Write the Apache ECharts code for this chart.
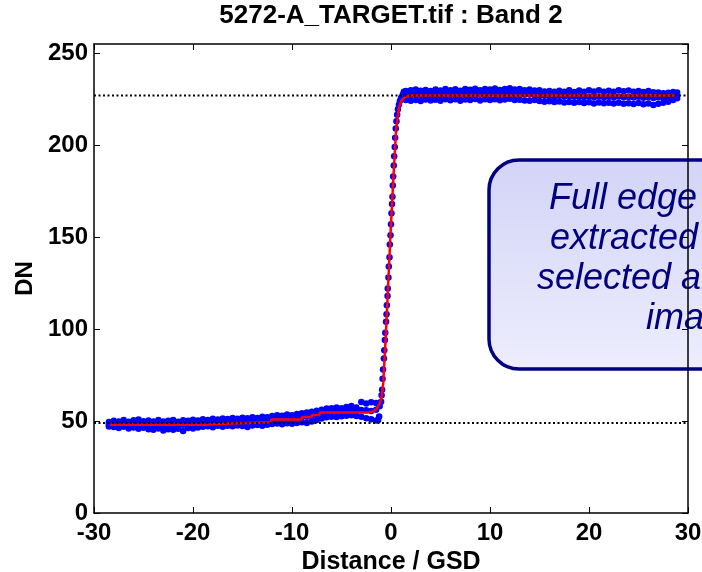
<!DOCTYPE html>
<html>
<head>
<meta charset="utf-8">
<script src="https://cdn.jsdelivr.net/npm/echarts@6/dist/echarts.min.js"></script>
<style>
html,body{margin:0;padding:0;background:#fff;}
#chart{width:702px;height:572px;}
</style>
</head>
<body>
<div id="chart"></div>
<script>
// ---- DATA ----
const chartTitle = '5272-A_TARGET.tif : Band 2';
const xName = 'Distance / GSD';
const yName = 'DN';
const xTicks = [-30, -20, -10, 0, 10, 20, 30];
const yTicks = [0, 50, 100, 150, 200, 250];
const refLevels = [227, 49];
const calloutLines = ['Full edge profile is', 'extracted from the', 'selected area of the', 'image'];

// dark plateau (left) blue dots: x, and upper / middle / lower values of the band
const lowX = [-28.5,-28,-27.5,-27,-26.5,-26,-25.5,-25,-24.5,-24,-23.5,-23,-22.5,-22,-21.5,-21,-20.5,-20,-19.5,-19,-18.5,-18,-17.5,-17,-16.5,-16,-15.5,-15,-14.5,-14,-13.5,-13,-12.5,-12,-11.5,-11,-10.5,-10,-9.5,-9,-8.5,-8,-7.5,-7,-6.5,-6,-5.5,-5,-4.5,-4,-3.5,-3,-2.5,-2,-1.5];
const lowTop = [49.5,50.2,49.8,50.5,49.6,50.4,50.8,49.9,50.3,49.7,50.6,49.8,50.2,50.5,49.6,50.4,50.1,50.7,50.3,51.0,50.6,51.2,50.8,51.4,51.1,51.6,51.3,51.8,51.5,52.0,51.7,52.3,52.1,52.8,53.2,52.9,53.5,53.1,53.8,54.2,54.6,55.0,55.6,56.2,56.8,57.0,57.4,56.9,57.6,58.2,57.3,60.4,59.5,60.2,59.8];
const lowMid = [48.2,48.5,48.0,48.6,47.9,48.3,48.7,47.8,48.4,47.6,48.2,47.5,47.9,48.3,47.7,48.0,48.4,48.5,48.6,49.0,48.8,49.1,49.3,49.2,49.5,49.6,49.4,49.9,49.7,50.0,49.8,50.2,50.4,50.6,50.9,51.0,51.3,51.1,51.6,52.0,52.4,52.8,53.5,54.3,54.8,55.0,55.2,55.1,55.4,55.6,55.3,56.0,55.8,55.5,56.2];
const lowBot = [47.0,46.8,46.2,46.9,46.0,46.5,45.8,46.3,45.5,45.2,45.9,44.8,45.6,45.3,45.8,44.6,46.2,45.9,46.5,46.9,47.2,46.6,47.4,46.9,47.5,47.2,47.6,47.3,46.8,47.6,47.9,47.5,48.0,48.4,48.7,48.3,48.8,48.5,49.0,49.4,48.9,49.8,50.6,51.4,52.0,52.4,52.2,52.6,52.9,53.1,52.7,52.3,51.5,51.0,50.3];

// bright plateau (right) blue dots
const highX = [1.5,2,2.5,3,3.5,4,4.5,5,5.5,6,6.5,7,7.5,8,8.5,9,9.5,10,10.5,11,11.5,12,12.5,13,13.5,14,14.5,15,15.5,16,16.5,17,17.5,18,18.5,19,19.5,20,20.5,21,21.5,22,22.5,23,23.5,24,24.5,25,25.5,26,26.5,27,27.5,28,28.5,28.9];
const highTop = [229.5,229.8,230.2,229.6,230.0,229.4,230.3,229.7,230.5,229.9,230.4,229.6,230.6,230.1,230.7,229.8,230.5,230.2,230.8,230.0,230.6,230.9,230.3,230.5,229.9,230.2,229.7,229.9,229.2,229.5,229.0,229.6,229.1,229.8,228.9,229.7,229.0,229.9,229.2,229.8,229.0,229.6,229.1,229.9,229.3,229.7,229.0,229.5,228.9,229.4,228.8,228.6,228.2,228.5,228.9,228.6];
const highMid = [227.0,227.3,227.5,227.1,227.6,226.9,227.8,227.2,227.7,227.4,227.9,227.3,228.0,227.6,228.1,227.5,227.9,227.7,228.2,227.6,228.0,228.3,227.8,227.9,227.5,227.6,227.3,227.0,226.8,226.6,226.5,226.8,226.4,226.7,226.3,226.6,226.2,226.5,226.1,226.4,226.0,226.3,226.0,226.4,226.1,226.2,225.9,226.3,225.8,226.1,225.7,226.0,225.9,226.4,226.8,227.2];
const highBot = [224.5,224.2,224.6,224.0,224.8,224.3,224.7,224.1,224.9,224.4,225.0,224.2,224.8,224.5,225.1,224.3,224.9,224.6,225.0,224.4,224.8,225.2,224.5,224.7,224.3,224.1,224.6,224.0,223.6,223.9,223.4,223.7,223.2,223.5,223.0,223.4,222.9,223.3,222.7,223.2,222.8,223.1,222.6,223.0,222.5,222.8,222.4,222.9,222.3,222.6,221.8,222.5,223.0,223.6,224.6,225.5];

// dots along the edge transition
const edgeX = [-1.3,-1.2,-1.15,-1.0,-0.95,-0.9,-0.85,-0.8,-0.72,-0.68,-0.62,-0.58,-0.5,-0.45,-0.42,-0.35,-0.33,-0.26,-0.22,-0.15,-0.12,-0.05,0.0,0.05,0.1,0.15,0.18,0.22,0.28,0.32,0.38,0.42,0.48,0.55,0.62,0.7,0.8,0.9,1.0,1.05,1.2,1.3];
const edgeY = [50.5,52.5,58,60.5,64,67,73,78,84,88.5,94,98,104,108,113,118,122,128,134,139,146,151,157,163,168,172,178,183,189,194,199,204,209,213,216.5,219.5,222,224,225.2,226,227.5,229];

// red fitted edge profile
const fitX = [-28.4,-18.8,-18.8,-16.3,-16.3,-12.1,-12.1,-9.0,-9.0,-8.0,-8.0,-7.2,-7.2,-2.3,-1.8,-1.45,-1.15,-0.94,-0.78,-0.5,-0.27,-0.03,0.23,0.5,0.7,0.84,1.05,1.25,1.6,1.9,28.7];
const fitY = [48.0,48.0,48.7,48.7,49.3,49.3,50.8,50.8,52.2,52.2,53.3,53.3,54.7,54.7,55.2,56.7,59.5,63,71,99,126,154,181,207,216.5,221,224,225.5,226.6,227,227];

// ---- build series data ----
const dots = [];
[[lowX, lowTop], [lowX, lowMid], [lowX, lowBot], [highX, highTop], [highX, highMid], [highX, highBot], [edgeX, edgeY]]
  .forEach(([xs, ys]) => xs.forEach((x, i) => dots.push([x, ys[i]])));
const fit = fitX.map((x, i) => [x, fitY[i]]);

const FONT = '"Liberation Sans", Arial, Helvetica, sans-serif';
const xMin = xTicks[0], xMax = xTicks[xTicks.length - 1];
const refSeries = refLevels.map(v => ({
  type: 'line', xAxisIndex: 0, yAxisIndex: 0, data: [[xMin, v], [xMax, v]],
  showSymbol: false, silent: true, z: 5,
  lineStyle: { color: '#000', width: 2, type: [2, 2.5] }
}));

const axisCommon = {
  axisLine: { show: true, onZero: false, lineStyle: { color: '#000', width: 1.5 } },
  axisTick: { show: true, inside: true, length: 6, lineStyle: { color: '#000', width: 1 } },
  splitLine: { show: false }
};
const labelStyle = { color: '#000', fontSize: 24, fontWeight: 'bold', fontFamily: FONT };

const chart = echarts.init(document.getElementById('chart'), null, { renderer: 'canvas' });
chart.setOption({
  animation: false,
  backgroundColor: '#fff',
  title: {
    text: chartTitle, left: 391, textAlign: 'center', top: 3, padding: 0,
    textStyle: { color: '#000', fontSize: 26, fontWeight: 'bold', fontFamily: FONT }
  },
  grid: { left: 94, right: 14, top: 44, bottom: 59, containLabel: false, outerBoundsMode: 'none' },
  xAxis: [
    Object.assign({}, axisCommon, {
      type: 'value', position: 'bottom', min: xMin, max: xMax, interval: 10,
      axisLabel: Object.assign({ margin: 8 }, labelStyle),
      name: xName, nameLocation: 'middle', nameGap: 37,
      nameTextStyle: { color: '#000', fontSize: 25, fontWeight: 'bold', fontFamily: FONT }
    }),
    Object.assign({}, axisCommon, {
      type: 'value', position: 'top', min: xMin, max: xMax, interval: 10,
      axisLabel: { show: false }
    })
  ],
  yAxis: [
    Object.assign({}, axisCommon, {
      type: 'value', position: 'left', min: 0, max: 255, interval: 50,
      axisLabel: Object.assign({ margin: 6, showMaxLabel: false,
        formatter: v => (yTicks.indexOf(v) >= 0 ? String(v) : '') }, labelStyle),
      name: yName, nameLocation: 'middle', nameGap: 56, nameRotate: 90,
      nameTextStyle: { color: '#000', fontSize: 24, fontWeight: 'bold', fontFamily: FONT }
    }),
    Object.assign({}, axisCommon, {
      type: 'value', position: 'right', min: 0, max: 255, interval: 50,
      axisLabel: { show: false }
    })
  ],
  series: [
    {
      type: 'scatter', xAxisIndex: 0, yAxisIndex: 0, data: dots,
      symbol: 'circle', symbolSize: 6.5, silent: true, z: 2,
      itemStyle: { color: '#0000ff', opacity: 1 }
    },
    {
      type: 'line', xAxisIndex: 0, yAxisIndex: 0, data: fit,
      showSymbol: false, silent: true, z: 3,
      lineStyle: { color: '#ff0000', width: 2.5 }
    }
  ].concat(refSeries),
  graphic: [
    {
      type: 'group', z: 100,
      children: [
        {
          type: 'rect',
          shape: { x: 489, y: 160, width: 420, height: 209, r: 30 },
          style: {
            fill: new echarts.graphic.LinearGradient(0, 0, 0, 1, [
              { offset: 0, color: '#d3d4f7' }, { offset: 1, color: '#ededfd' }
            ]),
            stroke: '#000080', lineWidth: 3.5
          }
        },
        {
          type: 'text',
          x: 695, y: 259,
          style: {
            text: calloutLines.join('\n'),
            align: 'center', verticalAlign: 'middle',
            fontSize: 36, fontStyle: 'italic', fontFamily: FONT,
            lineHeight: 40, fill: '#000080'
          }
        }
      ]
    }
  ]
});
</script>
</body>
</html>
